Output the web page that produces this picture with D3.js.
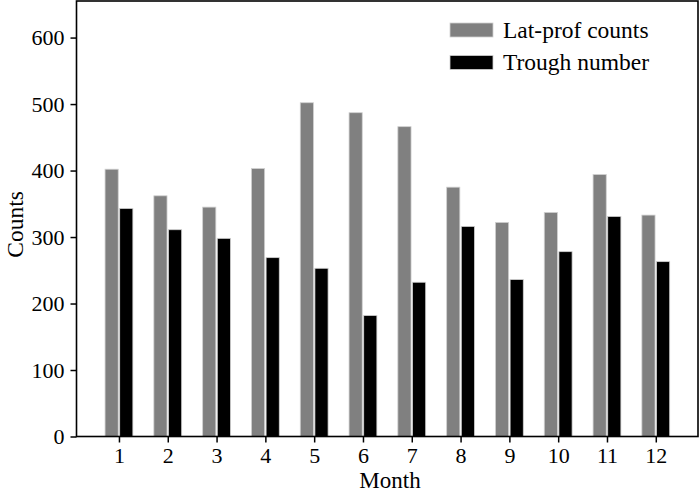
<!DOCTYPE html>
<html>
<head>
<meta charset="utf-8">
<script src="https://cdn.jsdelivr.net/npm/d3@7/dist/d3.min.js"></script>
<style>
  html, body { margin: 0; padding: 0; background: #fff; }
  svg { display: block; }
  svg text { font-family: "Liberation Serif", "Times New Roman", serif !important; fill: #000; }
</style>
</head>
<body>
<svg id="chart" width="700" height="495"></svg>
<script>
  // valores
  const months = [1, 2, 3, 4, 5, 6, 7, 8, 9, 10, 11, 12];
  const latProf = [402, 362, 345, 403, 502, 487, 466, 375, 322, 337, 394, 333];
  const trough  = [343, 311, 298, 269, 253, 182, 232, 316, 236, 278, 331, 263];
  const yTicks  = [0, 100, 200, 300, 400, 500, 600];
  const series  = [
    { name: 'Lat-prof counts', values: latProf, color: '#808080', off: -0.15 },
    { name: 'Trough number',   values: trough,  color: '#000000', off: 0.15 },
  ];

  const svg = d3.select('#chart');
  const L = 76.5, R = 698, T = 1, B = 436.5;
  const SERIF = '"Liberation Serif", "Times New Roman", serif';

  const x = d3.scaleLinear().domain([0.13, 12.865]).range([L, R]);
  const y = d3.scaleLinear().domain([0, 655]).range([B, T]);
  const bw = 0.27; // largura da barra em unidades de mês

  // barras
  series.forEach((s) => {
    svg.append('g').selectAll('rect').data(months).join('rect')
      .attr('x', (m) => x(m + s.off - bw / 2))
      .attr('width', (m) => x(m + s.off + bw / 2) - x(m + s.off - bw / 2))
      .attr('y', (m, i) => y(s.values[i]))
      .attr('height', (m, i) => y(0) - y(s.values[i]))
      .attr('fill', s.color)
      .attr('stroke', '#d0d0d0').attr('stroke-width', 0.8);
  });

  // eixos
  const xAxis = svg.append('g').attr('transform', `translate(0,${B})`)
    .call(d3.axisBottom(x).tickValues(months).tickSize(6).tickPadding(5));
  const yAxis = svg.append('g').attr('transform', `translate(${L},0)`)
    .call(d3.axisLeft(y).tickValues(yTicks).tickSize(6).tickPadding(6));
  [xAxis, yAxis].forEach((a) => {
    a.attr('font-family', null).attr('font-size', null);
    a.select('.domain').remove();
    a.selectAll('line').attr('stroke', '#000').attr('stroke-width', 1.5);
    a.selectAll('text').style('font-family', SERIF).style('font-size', '22px');
  });

  // moldura
  svg.append('rect')
    .attr('x', L).attr('y', T).attr('width', R - L).attr('height', B - T)
    .attr('fill', 'none').attr('stroke', '#000').attr('stroke-width', 1.6);

  // títulos dos eixos
  svg.append('text').attr('x', 390).attr('y', 488)
    .attr('text-anchor', 'middle').style('font-size', '23px').text('Month');
  svg.append('text').attr('transform', 'translate(22.5,224.5) rotate(-90)')
    .attr('text-anchor', 'middle').style('font-size', '23.5px').text('Counts');

  // legenda
  const lg = svg.append('g').attr('transform', 'translate(450,23)');
  series.forEach((s, i) => {
    lg.append('rect').attr('x', 0).attr('y', i * 32.5).attr('width', 43).attr('height', 14)
      .attr('fill', s.color).attr('stroke', '#d0d0d0').attr('stroke-width', 0.8);
    lg.append('text').attr('x', 53).attr('y', i * 32.5 + 14.5).style('font-size', '23.5px').text(s.name);
  });
</script>
</body>
</html>
